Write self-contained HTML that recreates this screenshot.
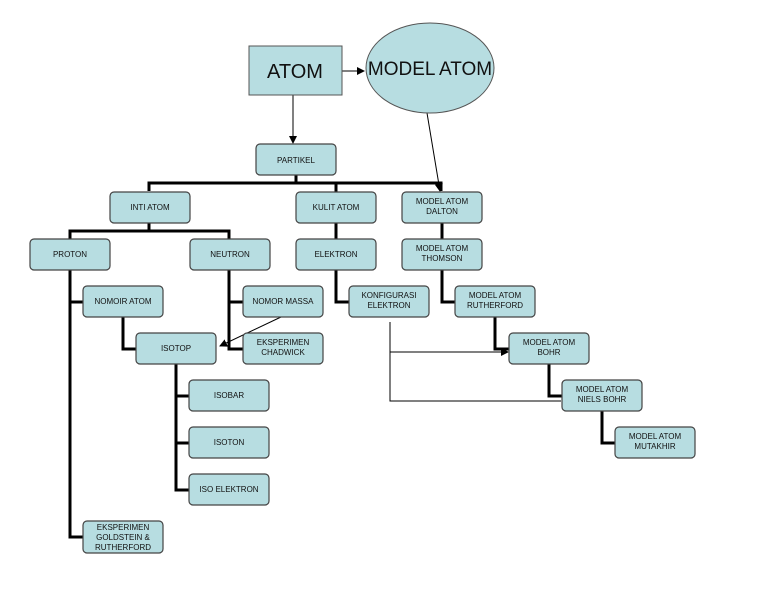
<!DOCTYPE html><html><head><style>body{margin:0;background:#fff}svg{display:block}text{font-family:"Liberation Sans",sans-serif;fill:#111;text-anchor:middle}</style></head><body>
<svg width="768" height="594" viewBox="0 0 768 594">
<defs><marker id="a" markerWidth="8" markerHeight="8" refX="7" refY="4" orient="auto" markerUnits="userSpaceOnUse"><path d="M0,0L8,4L0,8z" fill="#000"/></marker></defs>
<g fill="none" stroke="#000" stroke-width="3">
<path d="M296 175V183M149 191V183H441V191M336 183V192"/>
<path d="M149 223V231M70 239V231H229V239"/>
<path d="M70 270V537H83M70 302H83M229 270V349H243M229 302H243"/>
<path d="M123 317V349H136M176 364V490H189M176 396H189M176 443H189"/>
<path d="M336 223V239M336 270V302H349M442 223V239M442 270V302H455M495 317V349H509M549 364V396H562M602 411V443H615"/>
</g>
<g fill="none" stroke="#000" stroke-width="1">
<path d="M342 71H364" marker-end="url(#a)"/>
<path d="M293 95V143" marker-end="url(#a)"/>
<path d="M427 113L440 191" marker-end="url(#a)"/>
<path d="M281 317L220 346" marker-end="url(#a)"/>
<path d="M390 322V401H561M390 352H508" marker-end="url(#a)"/>
</g>
<rect x="249" y="46" width="93" height="49" fill="#b7dde1" stroke="#555"/>
<text x="295" y="78" font-size="20">ATOM</text>
<ellipse cx="430" cy="68" rx="64" ry="45" fill="#b7dde1" stroke="#555"/>
<text x="430" y="75" font-size="19">MODEL ATOM</text>
<g fill="#b7dde1" stroke="#444" stroke-width="1.2">
<rect x="256" y="144" width="80" height="31" rx="4"/>
<rect x="110" y="192" width="80" height="31" rx="4"/>
<rect x="296" y="192" width="80" height="31" rx="4"/>
<rect x="402" y="192" width="80" height="31" rx="4"/>
<rect x="30" y="239" width="80" height="31" rx="4"/>
<rect x="190" y="239" width="80" height="31" rx="4"/>
<rect x="296" y="239" width="80" height="31" rx="4"/>
<rect x="402" y="239" width="80" height="31" rx="4"/>
<rect x="83" y="286" width="80" height="31" rx="4"/>
<rect x="243" y="286" width="80" height="31" rx="4"/>
<rect x="349" y="286" width="80" height="31" rx="4"/>
<rect x="455" y="286" width="80" height="31" rx="4"/>
<rect x="136" y="333" width="80" height="31" rx="4"/>
<rect x="243" y="333" width="80" height="31" rx="4"/>
<rect x="509" y="333" width="80" height="31" rx="4"/>
<rect x="189" y="380" width="80" height="31" rx="4"/>
<rect x="562" y="380" width="80" height="31" rx="4"/>
<rect x="189" y="427" width="80" height="31" rx="4"/>
<rect x="615" y="427" width="80" height="31" rx="4"/>
<rect x="189" y="474" width="80" height="31" rx="4"/>
<rect x="83" y="521" width="80" height="32" rx="4"/>
</g>
<g font-size="8">
<text x="296" y="163">PARTIKEL</text>
<text x="150" y="210">INTI ATOM</text>
<text x="336" y="210">KULIT ATOM</text>
<text x="442" y="204">MODEL ATOM</text><text x="442" y="214">DALTON</text>
<text x="70" y="257">PROTON</text>
<text x="230" y="257">NEUTRON</text>
<text x="336" y="257">ELEKTRON</text>
<text x="442" y="251">MODEL ATOM</text><text x="442" y="261">THOMSON</text>
<text x="123" y="304">NOMOIR ATOM</text>
<text x="283" y="304">NOMOR MASSA</text>
<text x="389" y="298">KONFIGURASI</text><text x="389" y="308">ELEKTRON</text>
<text x="495" y="298">MODEL ATOM</text><text x="495" y="308">RUTHERFORD</text>
<text x="176" y="351">ISOTOP</text>
<text x="283" y="345">EKSPERIMEN</text><text x="283" y="355">CHADWICK</text>
<text x="549" y="345">MODEL ATOM</text><text x="549" y="355">BOHR</text>
<text x="229" y="398">ISOBAR</text>
<text x="602" y="392">MODEL ATOM</text><text x="602" y="402">NIELS BOHR</text>
<text x="229" y="445">ISOTON</text>
<text x="655" y="439">MODEL ATOM</text><text x="655" y="449">MUTAKHIR</text>
<text x="229" y="492">ISO ELEKTRON</text>
<text x="123" y="530">EKSPERIMEN</text><text x="123" y="540">GOLDSTEIN &amp;</text><text x="123" y="550">RUTHERFORD</text>
</g>
</svg></body></html>
